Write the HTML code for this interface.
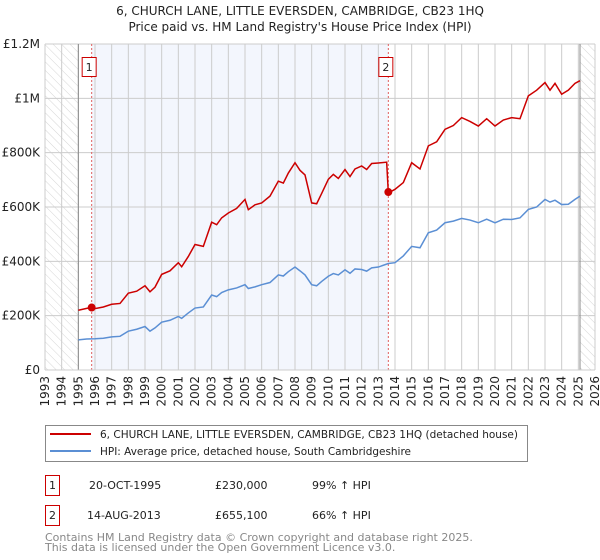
<!DOCTYPE html>
<html><head><meta charset="utf-8"><style>
body{margin:0;background:#fff;font-family:"DejaVu Sans","Liberation Sans",sans-serif}
svg{display:block}
</style></head><body>
<svg width="600" height="560" viewBox="0 0 600 560" font-family="DejaVu Sans, Liberation Sans, sans-serif">
<defs>
<pattern id="hatch" width="6" height="6" patternUnits="userSpaceOnUse" patternTransform="rotate(-45)">
<line x1="0" y1="0" x2="0" y2="6" stroke="#d6d6d6" stroke-width="1"/></pattern>
</defs>
<text x="300" y="15" text-anchor="middle" font-size="12" fill="#222">6, CHURCH LANE, LITTLE EVERSDEN, CAMBRIDGE, CB23 1HQ</text>
<text x="300" y="31" text-anchor="middle" font-size="12" fill="#222">Price paid vs. HM Land Registry's House Price Index (HPI)</text>
<g id="plot"></g>
<g>
<rect x="45.5" y="425.5" width="482" height="36" fill="#fff" stroke="#888"/>
<line x1="50" y1="434" x2="91" y2="434" stroke="#cc0000" stroke-width="2"/>
<text x="100" y="438" font-size="11" fill="#222" textLength="418" lengthAdjust="spacingAndGlyphs">6, CHURCH LANE, LITTLE EVERSDEN, CAMBRIDGE, CB23 1HQ (detached house)</text>
<line x1="50" y1="451" x2="91" y2="451" stroke="#5b8fd4" stroke-width="2"/>
<text x="100" y="455" font-size="11" fill="#222" textLength="311" lengthAdjust="spacingAndGlyphs">HPI: Average price, detached house, South Cambridgeshire</text>
</g>
<g font-size="11" fill="#222">
<rect x="45.5" y="475.5" width="14" height="20" fill="#fff" stroke="#cc0000"/>
<text x="52.5" y="489" text-anchor="middle">1</text>
<text x="89" y="489">20-OCT-1995</text><text x="215" y="489">£230,000</text><text x="312" y="489">99% ↑ HPI</text>
<rect x="45.5" y="505.5" width="14" height="20" fill="#fff" stroke="#cc0000"/>
<text x="52.5" y="519" text-anchor="middle">2</text>
<text x="87" y="519">14-AUG-2013</text><text x="215" y="519">£655,100</text><text x="312" y="519">66% ↑ HPI</text>
</g>
<g font-size="11" fill="#888">
<text x="45" y="541">Contains HM Land Registry data © Crown copyright and database right 2025.</text>
<text x="45" y="551">This data is licensed under the Open Government Licence v3.0.</text>
</g>
</svg>
<script>
const hpiYears=[1995,1995.5,1996,1996.5,1997,1997.5,1998,1998.5,1999,1999.3,1999.6,2000,2000.5,2001,2001.2,2001.6,2002,2002.5,2003,2003.3,2003.6,2004,2004.5,2005,2005.2,2005.6,2006,2006.5,2007,2007.3,2007.6,2008,2008.3,2008.6,2009,2009.3,2009.6,2010,2010.3,2010.6,2011,2011.3,2011.6,2012,2012.3,2012.6,2013,2013.6,2014,2014.5,2015,2015.5,2016,2016.5,2017,2017.5,2018,2018.5,2019,2019.5,2020,2020.5,2021,2021.5,2022,2022.5,2023,2023.3,2023.6,2024,2024.4,2024.8,2025.1];
const hpiValues=[111,114,115,117,122,124,143,150,160,143,155,176,183,197,190,210,228,232,276,270,285,295,302,314,300,306,314,322,350,346,362,379,365,350,314,310,326,345,355,350,369,356,372,370,364,376,379,392,395,420,455,450,505,515,542,548,558,552,542,555,542,555,554,560,591,600,628,618,625,609,610,628,640];
const saleYears=[1995,1995.5,1995.8,1996,1996.5,1997,1997.5,1998,1998.5,1999,1999.3,1999.6,2000,2000.5,2001,2001.2,2001.6,2002,2002.5,2003,2003.3,2003.6,2004,2004.5,2005,2005.2,2005.6,2006,2006.5,2007,2007.3,2007.6,2008,2008.3,2008.6,2009,2009.3,2009.6,2010,2010.3,2010.6,2011,2011.3,2011.6,2012,2012.3,2012.6,2013,2013.5,2013.6,2014,2014.5,2015,2015.5,2016,2016.5,2017,2017.5,2018,2018.5,2019,2019.5,2020,2020.5,2021,2021.5,2022,2022.5,2023,2023.3,2023.6,2024,2024.4,2024.8,2025.1];
const saleValues=[220,227,230,226,232,242,245,283,290,310,288,305,352,365,395,380,418,462,455,544,535,560,578,595,628,590,608,615,640,695,688,725,763,735,718,615,612,650,702,720,705,738,712,740,751,738,760,762,765,652,665,690,763,740,825,840,886,900,929,915,898,925,898,920,929,925,1009,1030,1058,1030,1055,1015,1030,1055,1065];
const saleMarkers=[{n:'1',year:1995.8,value:230},{n:'2',year:2013.6,value:655.1}];
const yTickValues=[0,200,400,600,800,1000,1200];
const yTickLabels=['£0','£200K','£400K','£600K','£800K','£1M','£1.2M'];
const xStart=1993,xEnd=2026;
const L=45,R=595,T=44,B=370;
const X=y=>L+(y-xStart)/(xEnd-xStart)*(R-L);
const Y=v=>B-v/1200*(B-T);
const NS='http://www.w3.org/2000/svg';
const g=document.getElementById('plot');
function el(tag,attrs,parent){const e=document.createElementNS(NS,tag);for(const k in attrs)e.setAttribute(k,attrs[k]);(parent||g).appendChild(e);return e;}
let r=el('rect',{x:X(saleMarkers[0].year),y:T,width:X(saleMarkers[1].year)-X(saleMarkers[0].year),height:B-T,fill:'#f3f6fd'});


r=el('rect',{x:L,y:T,width:X(1995)-L,height:B-T,fill:'url(#hatch)'});


r=el('rect',{x:X(2025.1),y:T,width:R-X(2025.1),height:B-T,fill:'url(#hatch)'});


for(let yr=xStart;yr<=xEnd;yr++){
 const x=X(yr);
 const l=el('line',{x1:x,x2:x,y1:T,y2:B,stroke:'#ccc','stroke-width':1});
 
 
 const t=el('text',{x:0,y:0,'font-size':12,fill:'#222','text-anchor':'end',transform:`translate(${x+4},${B+6}) rotate(-90)`});
 t.textContent=yr;
 
 
}
yTickValues.forEach((v,i)=>{
 const y=Y(v);
 const l=el('line',{x1:L,x2:R,y1:y,y2:y,stroke:'#ccc','stroke-width':1});
 
 
 const t=el('text',{x:L-5,y:y+4,'font-size':12,fill:'#222','text-anchor':'end'});
 t.textContent=yTickLabels[i];
 
 
});
let bl=el('line',{x1:X(1995),x2:X(1995),y1:T,y2:B,stroke:'#888','stroke-width':1});


bl=el('line',{x1:X(2025.1),x2:X(2025.1),y1:T,y2:B,stroke:'#888','stroke-width':1});


saleMarkers.forEach(s=>{
 const x=X(s.year);
 const l=el('line',{x1:x,x2:x,y1:T,y2:B,stroke:'#e06060','stroke-width':1,'stroke-dasharray':'2,2'});
 
 
 const b=el('rect',{x:x-9.5,y:57.5,width:14,height:19,fill:'#fff',stroke:'#cc0000'});
 
 
 const t=el('text',{x:x-2.5,y:71,'font-size':11,fill:'#222','text-anchor':'middle'});
 t.textContent=s.n;
 
 
});
const hp=el('polyline',{points:hpiYears.map((y,i)=>X(y)+','+Y(hpiValues[i])).join(' '),fill:'none',stroke:'#5b8fd4','stroke-width':1.5});


const sp=el('polyline',{points:saleYears.map((y,i)=>X(y)+','+Y(saleValues[i])).join(' '),fill:'none',stroke:'#cc0000','stroke-width':1.5});


saleMarkers.forEach(s=>{
 const c=el('circle',{cx:X(s.year),cy:Y(s.value),r:4,fill:'#cc0000'});
 
 
});
let ax=el('line',{x1:L,x2:R,y1:B,y2:B,stroke:'#ccc','stroke-width':1});


</script>
</body></html>
